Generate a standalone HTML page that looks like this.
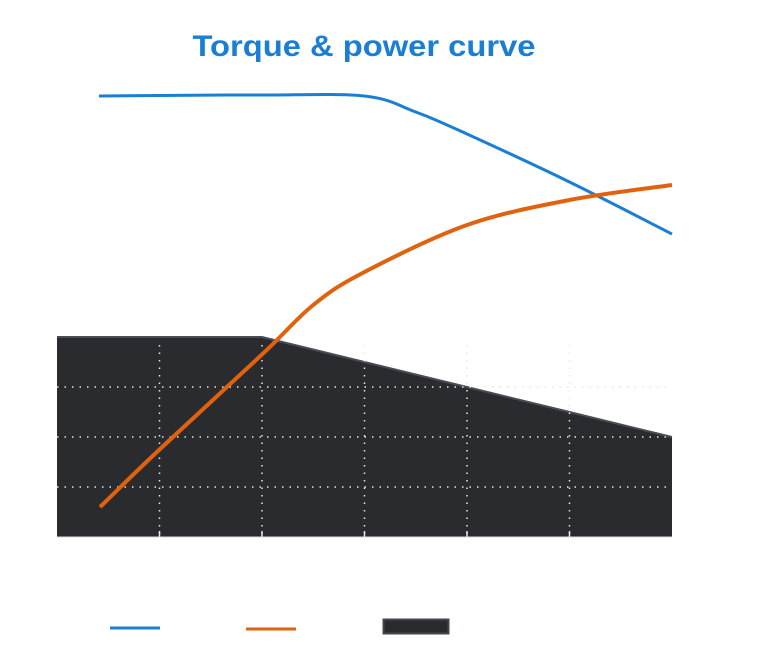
<!DOCTYPE html>
<html><head><meta charset="utf-8"><style>
html,body{margin:0;padding:0;background:#fff;}
svg{display:block;font-family:"Liberation Sans",sans-serif;}
</style></head><body>
<svg id="chart" width="760" height="660" viewBox="0 0 760 660">
<text x="364" y="56" text-anchor="middle" font-size="30" font-weight="bold" fill="#1a7fd4" textLength="343" lengthAdjust="spacingAndGlyphs">Torque &amp; power curve</text>
<g id="plot"></g>
<g id="legend">
<line x1="110" y1="628" x2="160" y2="628" stroke="#1a7fd4" stroke-width="3"/>
<text x="168" y="633" font-size="13" fill="#ffffff">Torque</text>
<line x1="246" y1="629" x2="296" y2="629" stroke="#e0620f" stroke-width="3"/>
<text x="304" y="633" font-size="13" fill="#ffffff">Power</text>
<rect x="383.5" y="619.5" width="65" height="14" fill="#2a2b2f" stroke="#44474e" stroke-width="2"/>
<text x="456" y="633" font-size="13" fill="#ffffff">Limit</text>
</g>
</svg>
<script>
const xTicks = [0, 1, 2, 3, 4, 5, 6];
const yTicks = [0, 1, 2, 3, 4];
const areaX = [0, 1, 2, 3, 4, 5, 6];
const areaY = [4, 4, 4, 3.5, 3, 2.5, 2];
const torqueX = [0.41, 1, 2, 3, 3.5, 4, 5, 6];
const torqueY = [8.82, 8.83, 8.84, 8.82, 8.5, 8.06, 7.1, 6.06];
const powerX = [0.42, 1, 2, 2.5, 3, 4, 5, 6];
const powerY = [0.6, 1.75, 3.65, 4.64, 5.3, 6.24, 6.74, 7.04];

const X0 = 57, X1 = 672, Y0 = 537, YU = 50;
const sx = v => X0 + v * (X1 - X0) / 6;
const sy = v => Y0 - v * YU;
const NS = 'http://www.w3.org/2000/svg';
const plot = document.getElementById('plot');
function mk(tag, attrs) {
  const e = document.createElementNS(NS, tag);
  for (const k in attrs) e.setAttribute(k, attrs[k]);
  plot.appendChild(e);
  return e;
}
let areaD = 'M' + sx(areaX[0]) + ',' + Y0;
areaX.forEach((x, i) => { areaD += ' L' + sx(x) + ',' + sy(areaY[i]); });
areaD += ' L' + sx(areaX[areaX.length - 1]) + ',' + Y0 + ' Z';
const area = mk('path', { d: areaD, fill: '#2a2b2f' });


let edgePath = '';
areaX.forEach((x, i) => { edgePath += (i ? ' L' : 'M') + sx(x) + ',' + sy(areaY[i]); });
const edge = mk('path', { d: edgePath, fill: 'none', stroke: '#4a4d55', 'stroke-width': 2 });


yTicks.slice(1, 4).forEach(v => {
  const g = mk('line', { x1: X0, x2: X1, y1: sy(v), y2: sy(v), stroke: '#e8e8e8', 'stroke-width': 1.5, 'stroke-dasharray': '1.5 6' });
  
  
});
xTicks.slice(1, 6).forEach(v => {
  const g = mk('line', { x1: sx(v), x2: sx(v), y1: sy(4) + 8, y2: Y0, stroke: '#e8e8e8', 'stroke-width': 1.5, 'stroke-dasharray': '1.5 6' });
  
  
  const t = mk('line', { x1: sx(v), x2: sx(v), y1: Y0 - 6, y2: Y0, stroke: '#e8e8e8', 'stroke-width': 1.5 });
  
  
});
const ax = mk('line', { x1: X0, x2: X1, y1: Y0, y2: Y0, stroke: '#d8d8d8', 'stroke-width': 1 });


function curve(xs, ys) {
  const p = xs.map((x, i) => [sx(x), sy(ys[i])]);
  let s = 'M' + p[0][0] + ',' + p[0][1];
  for (let i = 0; i < p.length - 1; i++) {
    const p0 = p[i - 1] || p[i], p1 = p[i], p2 = p[i + 1], p3 = p[i + 2] || p2;
    const c1 = [p1[0] + (p2[0] - p0[0]) / 6, p1[1] + (p2[1] - p0[1]) / 6];
    const c2 = [p2[0] - (p3[0] - p1[0]) / 6, p2[1] - (p3[1] - p1[1]) / 6];
    s += ' C' + c1 + ' ' + c2 + ' ' + p2;
  }
  return s;
}
const tl = mk('path', { d: curve(torqueX, torqueY), fill: 'none', stroke: '#1a7fd4', 'stroke-width': 3 });


const pl = mk('path', { d: curve(powerX, powerY), fill: 'none', stroke: '#e0620f', 'stroke-width': 4 });


</script>
</body></html>
